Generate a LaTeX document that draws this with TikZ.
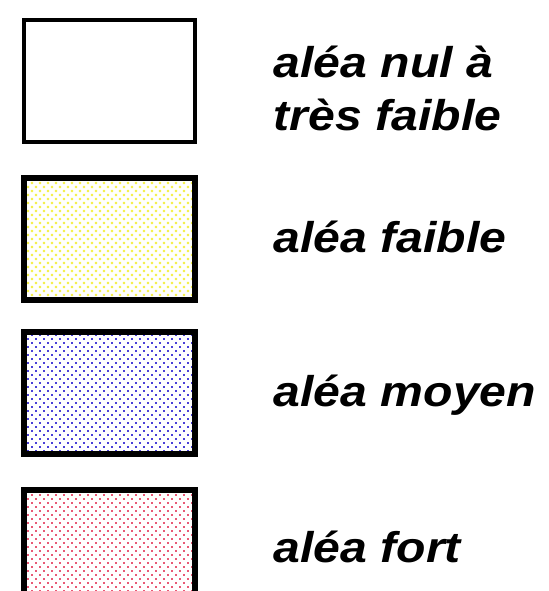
\documentclass[tikz,border=0pt]{standalone}
\usepackage{fontspec}
\setmainfont{Liberation Sans}[FakeStretch=1.12]
\usetikzlibrary{positioning, patterns.meta}
\definecolor{cYellowDot}{HTML}{F4F050}
\definecolor{cBlueDot}{HTML}{4A40D8}
\definecolor{cRedDot}{HTML}{E85A76}

\begin{document}
\begin{tikzpicture}[
  x=1bp, y=-1bp,
  legbox/.style={
    draw=black, line width=6bp, inner sep=0pt,
    minimum width=171bp, minimum height=122bp
  },
  speckle/.style 2 args={
    pattern={Dots[distance=5.657bp, angle=45, radius=#2]}, pattern color=#1
  },
  legtext/.style={
    anchor=base west, inner sep=0pt, align=left,
    font=\fontsize{43bp}{53bp}\selectfont\bfseries\itshape
  },
]
\useasboundingbox (0,0) rectangle (549,591);
\clip (0,0) rectangle (549,591);

% legend boxes
\node[legbox, line width=4bp] (nul) at (109.5,80.8) {};
\node[legbox, speckle={cYellowDot}{1.6bp}, below=31.5bp of nul] (faible) {};
\node[legbox, speckle={cBlueDot}{1.1bp}, below=26bp of faible] (moyen) {};
\node[legbox, speckle={cRedDot}{1.25bp}, below=29.5bp of moyen] (fort) {};

% labels
\node[right=76.5bp of nul.east, legtext, yshift=-49.5bp] (tnul) {aléa nul à\\très faible};
\node[right=75.5bp of faible.east, legtext, yshift=-13.5bp] (tfaible) {aléa faible};
\node[right=75.5bp of moyen.east, legtext, yshift=-13.2bp] (tmoyen) {aléa moyen};
\node[right=75.5bp of fort.east, legtext, yshift=-12bp] (tfort) {aléa fort};

\end{tikzpicture}
\end{document}
